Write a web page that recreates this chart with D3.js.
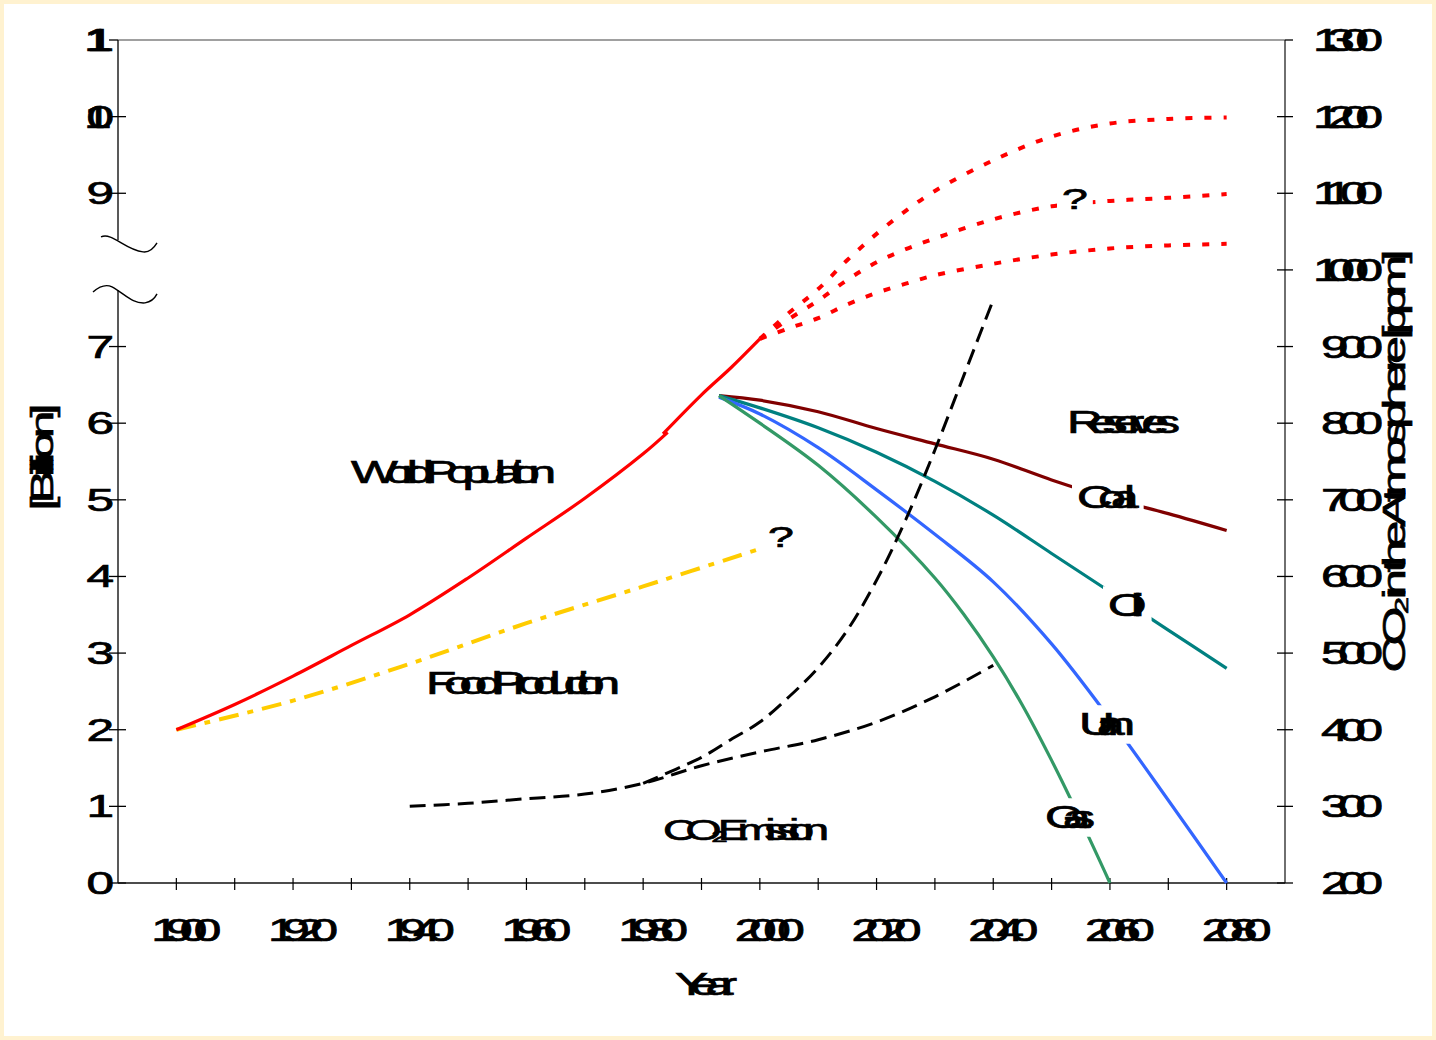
<!DOCTYPE html>
<html>
<head>
<meta charset="utf-8">
<script src="https://cdn.jsdelivr.net/npm/d3@7"></script>
<style>
  html, body { margin: 0; padding: 0; background: #FFF2D0; }
  svg { display: block; }
</style>
</head>
<body>
<svg id="chart" width="1436" height="1040"></svg>
<script>
// ---- tick values and labels ----
const minorYears = d3.range(1900, 2081, 10);
const yearTicks = [1900, 1920, 1940, 1960, 1980, 2000, 2020, 2040, 2060, 2080];
const yearLabels = ["1900", "1920", "1940", "1960", "1980", "2000", "2020", "2040", "2060", "2080"];
const leftTicks = [0, 1, 2, 3, 4, 5, 6, 7, 9, 10, 11];
const leftLabels = ["0", "1", "2", "3", "4", "5", "6", "7", "9", "10", "11"];
const rightTicks = [200, 300, 400, 500, 600, 700, 800, 900, 1000, 1100, 1200, 1300];
const rightLabels = ["200", "300", "400", "500", "600", "700", "800", "900", "1000", "1100", "1200", "1300"];

// ---- world population [billion] ----
const popHistYears   = [1900, 1910, 1920, 1930, 1940, 1950, 1960, 1970, 1980, 1984.2];
const popHistValues  = [2.0, 2.33, 2.7, 3.1, 3.5, 3.98, 4.5, 5.02, 5.6, 5.88];
const popRecentYears  = [1983.4, 1990, 1995, 2000];
const popRecentValues = [5.86, 6.37, 6.72, 7.1];

// ---- population projections [billion] ----
const projYears = [2000, 2005, 2010, 2015, 2020, 2025, 2030, 2040, 2050, 2060, 2070, 2080];
const projHigh  = [7.1, 7.44, 7.75, 8.13, 8.47, 8.77, 9.03, 9.43, 9.74, 9.91, 9.97, 9.99];
const projMid   = [7.1, 7.36, 7.6, 7.87, 8.1, 8.27, 8.41, 8.66, 8.83, 8.9, 8.94, 8.99];
const projLow   = [7.1, 7.24, 7.37, 7.55, 7.7, 7.82, 7.93, 8.08, 8.2, 8.28, 8.32, 8.34];

// ---- food production ----
const foodYears  = [1900, 1920, 1940, 1960, 1980, 2000];
const foodValues = [2.0, 2.38, 2.86, 3.39, 3.87, 4.36];

// ---- CO2 [ppm], right axis ----
const co2LowYears  = [1940, 1950, 1960, 1970, 1980, 1990, 2000, 2010, 2020, 2030, 2040];
const co2LowValues = [300, 304, 310, 316, 330, 353, 371, 387, 410, 443, 484];
const co2HighYears  = [1980, 1990, 1995, 2000, 2005, 2010, 2015, 2020, 2025, 2030, 2035, 2040];
const co2HighValues = [330, 364, 387, 410, 443, 481, 530, 595, 674, 765, 863, 961];

// ---- energy reserves ----
const coalYears  = [1993, 2000, 2010, 2020, 2030, 2040, 2050, 2060, 2070, 2080];
const coalValues = [6.36, 6.3, 6.15, 5.93, 5.73, 5.53, 5.26, 5.02, 4.82, 4.6];
const oilYears   = [1993, 2000, 2010, 2020, 2030, 2040, 2050, 2060, 2070, 2080];
const oilValues  = [6.36, 6.2, 5.94, 5.62, 5.24, 4.8, 4.3, 3.8, 3.3, 2.8];
const uranYears  = [1993, 2000, 2010, 2020, 2030, 2040, 2050, 2060, 2070, 2080];
const uranValues = [6.34, 6.12, 5.68, 5.13, 4.55, 3.93, 3.12, 2.14, 1.08, 0];
const gasYears   = [1993, 2000, 2010, 2020, 2030, 2035, 2040, 2045, 2050, 2055, 2060];
const gasValues  = [6.36, 6.0, 5.45, 4.77, 3.98, 3.5, 2.95, 2.32, 1.6, 0.82, 0];

// ---- layout ----
const W = 1436, H = 1040;
const plot = { left: 118, right: 1285, top: 40, bottom: 883 };
const FONT = "'Liberation Sans', Arial, 'DejaVu Sans', sans-serif";
const SX = 1.6;   // horizontal glyph stretch of the labels

const svg = d3.select("#chart");

svg.append("rect").attr("x", 4).attr("y", 4).attr("width", W - 8).attr("height", H - 8)
  .attr("fill", "#ffffff");

const x = d3.scaleLinear().domain([1890, 2090]).range([plot.left, plot.right]);
const yL = d3.scaleLinear().domain([0, 11]).range([plot.bottom, plot.top]);
const yR = d3.scaleLinear().domain([200, 1300]).range([plot.bottom, plot.top]);

// wide, tightly packed label text
function wideText(parent, str, o) {
  const outer = parent.append("g");
  const inner = outer.append("g")
    .attr("transform", `translate(${o.x},${o.y})` + (o.rotate ? ` rotate(${o.rotate})` : "") + ` scale(${SX},1)`);
  const size = o.size || 31;
  const t = inner.append("text")
    .attr("font-family", FONT)
    .attr("font-size", size)
    .attr("fill", "#000")
    .attr("stroke", "#000")
    .attr("stroke-width", 0.7)
    .attr("text-anchor", o.anchor || "start")
    .text(str);
  t.attr("textLength", o.width / SX).attr("lengthAdjust", "spacing");
  if (o.box) {
    const b = outer.node().getBBox();
    outer.insert("rect", ":first-child")
      .attr("x", b.x - 5).attr("y", b.y - 2)
      .attr("width", b.width + 10).attr("height", b.height + 4)
      .attr("fill", "#ffffff");
  }
  return outer;
}

// ---- frame ----
svg.append("line")
  .attr("x1", plot.left).attr("x2", plot.right).attr("y1", plot.top).attr("y2", plot.top)
  .attr("stroke", "#a0a0a0").attr("stroke-width", 2);

// left axis with a break between 7 and 9
const breakTop = yL(8) - 30, breakBot = yL(8) + 20;
svg.append("line").attr("x1", plot.left).attr("x2", plot.left)
  .attr("y1", plot.top).attr("y2", breakTop).attr("stroke", "#222").attr("stroke-width", 1.5);
svg.append("line").attr("x1", plot.left).attr("x2", plot.left)
  .attr("y1", breakBot).attr("y2", plot.bottom).attr("stroke", "#222").attr("stroke-width", 1.5);

const bx = plot.left, by1 = yL(8) - 33, by2 = yL(8) + 22;
svg.append("path")
  .attr("d", `M${bx - 17},${by1} C${bx - 6},${by1 - 5} ${bx + 7},${by1 + 13} ${bx + 25},${by1 + 15} C${bx + 32},${by1 + 16} ${bx + 36},${by1 + 11} ${bx + 39},${by1 + 6}`)
  .attr("fill", "none").attr("stroke", "#000").attr("stroke-width", 1.4);
svg.append("path")
  .attr("d", `M${bx - 25},${by2} C${bx - 18},${by2 - 6} ${bx - 12},${by2 - 8} ${bx - 6},${by2 - 5} C${bx + 7},${by2 + 2} ${bx + 14},${by2 + 12} ${bx + 27},${by2 + 11} C${bx + 33},${by2 + 10} ${bx + 37},${by2 + 6} ${bx + 39},${by2 + 2}`)
  .attr("fill", "none").attr("stroke", "#000").attr("stroke-width", 1.4);

leftTicks.forEach((v, i) => {
  svg.append("line").attr("x1", plot.left - 9).attr("x2", plot.left + (v === 11 ? 0 : 8))
    .attr("y1", yL(v)).attr("y2", yL(v)).attr("stroke", "#000").attr("stroke-width", 1.3);
  const lab = leftLabels[i];
  wideText(svg, lab, { x: 114, y: yL(v) + 11, anchor: "end", width: lab.length > 1 ? 30 : 24 });
});

// right axis
svg.append("line").attr("x1", plot.right).attr("x2", plot.right)
  .attr("y1", plot.top).attr("y2", plot.bottom).attr("stroke", "#222").attr("stroke-width", 1.3);
rightTicks.forEach((v, i) => {
  svg.append("line").attr("x1", plot.right - (v === 1300 ? 0 : 8)).attr("x2", plot.right + 8)
    .attr("y1", yR(v)).attr("y2", yR(v)).attr("stroke", "#000").attr("stroke-width", 1.3);
  const lab = rightLabels[i];
  wideText(svg, lab, { x: 1383, y: yR(v) + 11, anchor: "end", width: lab.length > 3 ? 70 : 62 });
});

// bottom axis
svg.append("line").attr("x1", plot.left).attr("x2", plot.right)
  .attr("y1", plot.bottom).attr("y2", plot.bottom).attr("stroke", "#111").attr("stroke-width", 1.5);
minorYears.forEach(yr => {
  svg.append("line").attr("x1", x(yr)).attr("x2", x(yr))
    .attr("y1", plot.bottom - 5).attr("y2", plot.bottom + 7)
    .attr("stroke", "#000").attr("stroke-width", 1.2);
});
yearTicks.forEach((yr, i) => {
  wideText(svg, yearLabels[i], { x: x(yr) + 10, y: 941, anchor: "middle", width: 70 });
});

// axis titles
wideText(svg, "Year", { x: 706, y: 995, anchor: "middle", width: 62 });
wideText(svg, "[Billion]", { x: 53, y: 457, rotate: -90, anchor: "middle", width: 107 });
wideText(svg, "CO\u2082 in the Atmosphere [ppm]", { x: 1405, y: 461, rotate: -90, anchor: "middle", width: 423 });

// ---- series ----
const curve = d3.curveCatmullRom.alpha(0.5);
const lineL = d3.line().x(d => x(d[0])).y(d => yL(d[1])).curve(curve);
const lineR = d3.line().x(d => x(d[0])).y(d => yR(d[1])).curve(curve);
const zip = (a, b) => a.map((v, i) => [v, b[i]]);

const lines = svg.append("g").attr("fill", "none").attr("stroke-linecap", "butt");

function drawL(ys, vs, color, width, dash, gen) {
  lines.append("path").datum(zip(ys, vs))
    .attr("d", gen || lineL)
    .attr("stroke", color).attr("stroke-width", width)
    .attr("stroke-dasharray", dash || null);
}

// reserves
drawL(coalYears, coalValues, "#800000", 3.2);
drawL(oilYears, oilValues, "#008080", 3.2);
drawL(uranYears, uranValues, "#3366FF", 3.2);
drawL(gasYears, gasValues, "#339966", 3.2);

// CO2
drawL(co2LowYears, co2LowValues, "#000000", 3, "16,8", lineR);
drawL(co2HighYears, co2HighValues, "#000000", 3, "16,8", lineR);

// food
drawL(foodYears, foodValues, "#FFCC00", 4, "20,9,6,9");

// population
drawL(popHistYears, popHistValues, "#FF0000", 3.2);
drawL(popRecentYears, popRecentValues, "#FF0000", 3.2);
drawL(projYears, projHigh, "#FF0000", 4, "7,12");
drawL(projYears, projMid, "#FF0000", 4, "7,12");
drawL(projYears, projLow, "#FF0000", 4, "7,12");

// ---- annotations ----
wideText(svg, "World Population", { x: 351, y: 483, width: 205 });
wideText(svg, "Food Production", { x: 426, y: 694, width: 194 });
wideText(svg, "CO\u2082Emission", { x: 663, y: 840, width: 166, size: 29 });
wideText(svg, "Reserves", { x: 1067, y: 433, width: 113, box: true });
wideText(svg, "Coal", { x: 1077, y: 508, width: 58, box: true });
wideText(svg, "Oil", { x: 1108, y: 616, width: 34, box: true });
wideText(svg, "Uran", { x: 1079, y: 735, width: 56, box: true });
wideText(svg, "Gas", { x: 1045, y: 828, width: 50, box: true });
wideText(svg, "?", { x: 768, y: 547, width: 16, size: 29, box: true });
wideText(svg, "?", { x: 1062, y: 209, width: 16, size: 29, box: true });
</script>
</body>
</html>
